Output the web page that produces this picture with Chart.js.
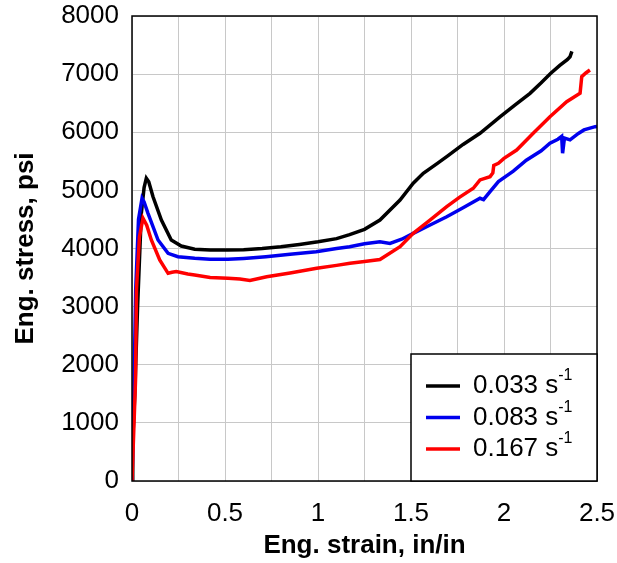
<!DOCTYPE html>
<html>
<head>
<meta charset="utf-8">
<script src="https://cdn.jsdelivr.net/npm/chart.js@4.4.0/dist/chart.umd.min.js"></script>
<style>
  html, body { margin: 0; padding: 0; background: #fff; }
  #wrap { width: 617px; height: 563px; }
</style>
</head>
<body>
<div id="wrap"><canvas id="myChart" width="617" height="563"></canvas></div>
<script>
// strain rate labels
var rateLabels = ["0.033", "0.083", "0.167"];
var lineColors = ["#000000", "#0000ee", "#ff0000"];

// 0.033 s-1
var strainA = [0, 0.004, 0.015, 0.03, 0.05, 0.065, 0.077, 0.09, 0.113, 0.158, 0.211, 0.265, 0.337, 0.42, 0.516, 0.6, 0.7, 0.8, 0.9, 1.0, 1.1, 1.17, 1.25, 1.333, 1.441, 1.512, 1.566, 1.64, 1.692, 1.78, 1.871, 1.98, 2.06, 2.14, 2.2, 2.25, 2.3, 2.34, 2.355, 2.365];
var stressA = [0, 700, 1500, 3000, 4600, 5050, 5210, 5150, 4890, 4490, 4146, 4043, 3986, 3976, 3974, 3980, 4000, 4030, 4070, 4115, 4170, 4240, 4330, 4490, 4834, 5122, 5294, 5460, 5580, 5790, 5982, 6270, 6470, 6670, 6850, 7010, 7150, 7250, 7300, 7390];

// 0.083 s-1
var strainB = [0, 0.01, 0.02, 0.035, 0.054, 0.065, 0.086, 0.14, 0.194, 0.247, 0.337, 0.42, 0.516, 0.6, 0.72, 0.85, 0.99, 1.1, 1.17, 1.25, 1.333, 1.387, 1.45, 1.512, 1.6, 1.692, 1.78, 1.871, 1.89, 1.925, 1.97, 2.05, 2.12, 2.2, 2.247, 2.29, 2.31, 2.315, 2.325, 2.355, 2.4, 2.43, 2.49, 2.5];
var stressB = [0, 1500, 3300, 4500, 4864, 4800, 4605, 4146, 3917, 3859, 3831, 3815, 3814, 3830, 3860, 3900, 3945, 4000, 4030, 4080, 4117, 4088, 4160, 4261, 4400, 4547, 4700, 4864, 4840, 4977, 5150, 5330, 5520, 5680, 5810, 5880, 5930, 5640, 5900, 5870, 5980, 6040, 6096, 6100];

// 0.167 s-1
var strainC = [0, 0.019, 0.024, 0.04, 0.059, 0.079, 0.104, 0.149, 0.194, 0.215, 0.238, 0.3, 0.337, 0.42, 0.516, 0.58, 0.634, 0.724, 0.85, 0.993, 1.1, 1.172, 1.25, 1.333, 1.441, 1.512, 1.602, 1.692, 1.76, 1.835, 1.871, 1.925, 1.94, 1.945, 1.97, 2.0, 2.068, 2.157, 2.247, 2.337, 2.409, 2.418, 2.44, 2.462];
var stressC = [0, 1740, 3290, 4200, 4520, 4400, 4146, 3802, 3573, 3590, 3602, 3560, 3544, 3500, 3487, 3475, 3450, 3515, 3580, 3659, 3710, 3745, 3775, 3810, 4031, 4261, 4490, 4720, 4880, 5036, 5180, 5236, 5300, 5430, 5466, 5550, 5694, 5982, 6268, 6526, 6670, 6956, 7020, 7071];

function toPoints(xs, ys) {
    return xs.map(function (x, i) { return { x: x, y: ys[i] }; });
}

var series = [toPoints(strainA, stressA), toPoints(strainB, stressB), toPoints(strainC, stressC)];

var fontFamily = "'Liberation Sans', Arial, sans-serif";

// frame around plot + legend box with superscripts
var framePlugin = {
    id: 'frame',
    afterDatasetsDraw: function (chart) {
        var ctx = chart.ctx;
        var a = chart.chartArea;
        ctx.save();
        ctx.strokeStyle = '#000';
        ctx.lineWidth = 1.5;
        ctx.strokeRect(a.left, a.top, a.right - a.left, a.bottom - a.top);

        // legend box in lower right corner
        var bx = a.right - 186, by = a.bottom - 127;
        ctx.fillStyle = '#fff';
        ctx.fillRect(bx, by, 186, 127);
        ctx.strokeRect(bx, by, 186, 127);
        for (var i = 0; i < rateLabels.length; i++) {
            var yy = by + 32 + i * 31.5;
            ctx.strokeStyle = lineColors[i];
            ctx.lineWidth = 3.5;
            ctx.beginPath();
            ctx.moveTo(bx + 15, yy);
            ctx.lineTo(bx + 49, yy);
            ctx.stroke();
            ctx.fillStyle = '#000';
            ctx.textBaseline = 'middle';
            ctx.textAlign = 'left';
            ctx.font = '26px ' + fontFamily;
            var txt = rateLabels[i] + ' s';
            ctx.fillText(txt, bx + 62, yy);
            var w = ctx.measureText(txt).width;
            ctx.font = '16px ' + fontFamily;
            ctx.fillText('-1', bx + 62 + w, yy - 10);
        }
        ctx.restore();
    }
};

var canvas = document.getElementById('myChart').getContext('2d');

new Chart(canvas, {
    type: 'scatter',
    data: {
        datasets: series.map(function (pts, i) {
            return {
                label: rateLabels[i] + ' s-1',
                data: pts,
                showLine: true,
                borderColor: lineColors[i],
                borderWidth: 3.5,
                pointRadius: 0,
                tension: 0,
                order: 2 - i
            };
        })
    },
    options: {
        responsive: false,
        animation: false,
        layout: { padding: { top: 16, right: 20, left: 0, bottom: 0 } },
        plugins: {
            legend: { display: false },
            tooltip: { enabled: false }
        },
        scales: {
            x: {
                type: 'linear',
                min: 0,
                max: 2.5,
                afterFit: function (s) { s.height = 82; s.paddingLeft = 0; s.paddingRight = 0; },
                grid: { color: '#c8c8c8', lineWidth: 1, drawTicks: false },
                border: { display: false },
                ticks: {
                    stepSize: 0.25,
                    padding: 17,
                    color: '#000',
                    maxRotation: 0,
                    autoSkip: false,
                    font: { family: fontFamily, size: 26 },
                    callback: function (v) {
                        var r = Math.round(v * 100);
                        return (r % 50 === 0) ? String(v) : '';
                    }
                },
                title: {
                    display: true,
                    text: 'Eng. strain, in/in',
                    color: '#000',
                    font: { family: fontFamily, size: 26, weight: 'bold' },
                    padding: { top: 0, bottom: 2 }
                }
            },
            y: {
                type: 'linear',
                min: 0,
                max: 8000,
                afterFit: function (s) { s.width = 132; s.paddingTop = 0; s.paddingBottom = 0; },
                grid: { color: '#c8c8c8', lineWidth: 1, drawTicks: false },
                border: { display: false },
                ticks: {
                    stepSize: 1000,
                    padding: 13,
                    color: '#000',
                    font: { family: fontFamily, size: 26 },
                    callback: function (v) { return String(v); }
                },
                title: {
                    display: true,
                    text: 'Eng. stress, psi',
                    color: '#000',
                    font: { family: fontFamily, size: 26, weight: 'bold' },
                    padding: { top: 10, bottom: 0 }
                }
            }
        }
    },
    plugins: [framePlugin]
});
</script>
</body>
</html>
